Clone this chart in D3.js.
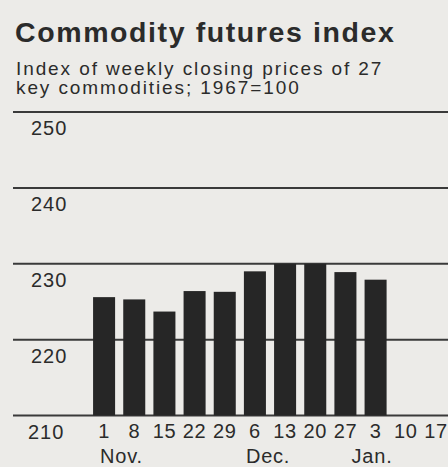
<!DOCTYPE html>
<html>
<head>
<meta charset="utf-8">
<script src="https://cdn.jsdelivr.net/npm/d3@7"></script>
<style>
  html, body { margin: 0; padding: 0; background: #ecebe8; }
  svg { display: block; }
  text { font-family: "Liberation Sans", Arial, Helvetica, sans-serif; fill: #2b2b2b; }
</style>
</head>
<body>
<svg id="chart" width="448" height="467"></svg>
<script>
// ---- data ----
const weeks = ["Nov 1", "Nov 8", "Nov 15", "Nov 22", "Nov 29", "Dec 6", "Dec 13", "Dec 20", "Dec 27", "Jan 3", "Jan 10", "Jan 17"];
const weekLabels = ["1", "8", "15", "22", "29", "6", "13", "20", "27", "3", "10", "17"];
const indexValues = [225.6, 225.3, 223.7, 226.4, 226.3, 229.0, 230.0, 230.0, 228.9, 227.9, null, null];
const yTicks = [210, 220, 230, 240, 250];
const months = [
  { label: "Nov.", week: "Nov 1" },
  { label: "Dec.", week: "Dec 6" },
  { label: "Jan.", week: "Jan 3" }
];
const title = "Commodity futures index";
const subtitle = ["Index of weekly closing prices of 27", "key commodities; 1967=100"];

// ---- drawing ----
const svg = d3.select("#chart");

const x = d3.scaleBand().domain(weeks).range([89, 451]).paddingInner(0.27).paddingOuter(0.135);
const y = d3.scaleLinear().domain([210, 250]).range([415.5, 112]);

svg.append("text").attr("x", 15).attr("y", 42)
  .attr("font-size", 28.5).attr("font-weight", "bold").attr("letter-spacing", 1.6)
  .text(title);

svg.selectAll("text.sub").data(subtitle).join("text").attr("class", "sub")
  .attr("x", 16).attr("y", (d, i) => 75 + i * 19)
  .attr("font-size", 19).attr("letter-spacing", 1.9)
  .text(d => d);

// gridlines
svg.append("g").selectAll("line").data(yTicks).join("line")
  .attr("x1", 13).attr("x2", 448)
  .attr("y1", d => y(d)).attr("y2", d => y(d))
  .attr("stroke", "#3a3a3a").attr("stroke-width", 2);

// y labels
svg.append("g").selectAll("text").data(yTicks).join("text")
  .attr("x", d => d === 210 ? 28 : 31).attr("y", d => y(d) + 23)
  .attr("font-size", 20).attr("letter-spacing", 1)
  .text(d => d);

// bars
const barData = weeks.map((w, i) => ({ week: w, value: indexValues[i] })).filter(d => d.value != null);
svg.append("g").selectAll("rect").data(barData).join("rect")
  .attr("x", d => x(d.week))
  .attr("width", x.bandwidth())
  .attr("y", d => y(d.value))
  .attr("height", d => y(210) - y(d.value))
  .attr("fill", "#262626");

// x labels
svg.append("g").selectAll("text").data(weeks).join("text")
  .attr("x", d => x(d) + x.bandwidth() / 2)
  .attr("y", 438)
  .attr("text-anchor", "middle")
  .attr("font-size", 20).attr("letter-spacing", 0.6)
  .text((d, i) => weekLabels[i]);

// month labels
const monthOffset = { "Nov.": 7, "Dec.": 2, "Jan.": -13 };
svg.append("g").selectAll("text").data(months).join("text")
  .attr("x", d => x(d.week) + monthOffset[d.label])
  .attr("y", 463)
  .attr("font-size", 20).attr("letter-spacing", 0.8)
  .text(d => d.label);
</script>
</body>
</html>
